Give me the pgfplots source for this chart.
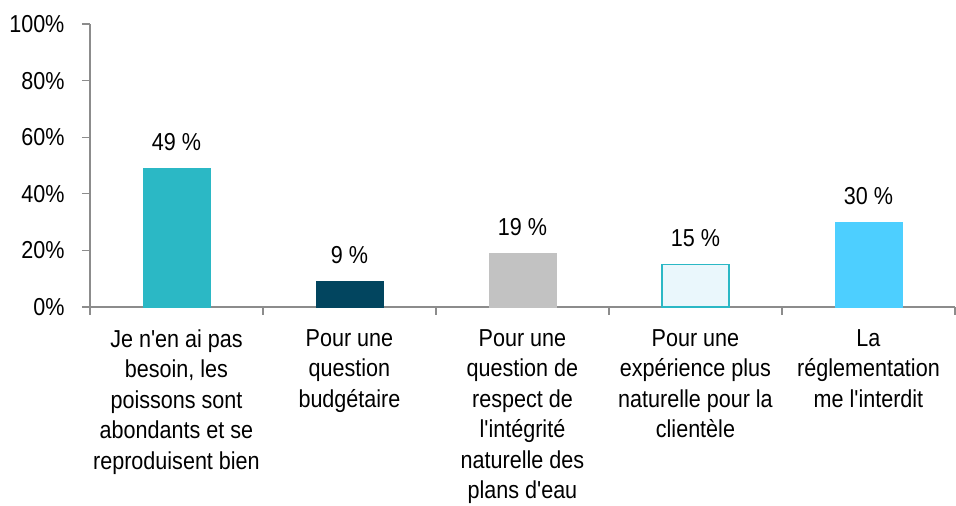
\documentclass[border=0pt]{standalone}
\usepackage{pgfplots}
\pgfplotsset{compat=1.18}
\usepackage{fontspec}
\setmainfont{Liberation Sans}[FakeStretch=0.88, Ligatures=TeXOff]
\definecolor{axgray}{HTML}{8C8C8C}
\definecolor{cteal}{HTML}{2BB8C5}
\definecolor{cdark}{HTML}{02455F}
\definecolor{cgray}{HTML}{C2C2C2}
\definecolor{cpale}{HTML}{EAF7FC}
\definecolor{csky}{HTML}{4DCFFF}
\begin{document}
\begin{tikzpicture}
\begin{axis}[
  scale only axis, width=865pt, height=283pt,
  xmin=0.5, xmax=5.5, ymin=0, ymax=100,
  axis lines=left, axis line style={-, draw=axgray, line width=1.4pt},
  tick align=outside, major tick length=8pt,
  tick style={draw=axgray, line width=1.2pt},
  font=\fontsize{24.5}{30.5}\selectfont,
  ytick={0,20,40,60,80,100},
  yticklabels={0\%,20\%,40\%,60\%,80\%,100\%},
  yticklabel style={xshift=-14pt},
  xtick={0.5,1.5,2.5,3.5,4.5,5.5},
  xticklabels={{Je n'en ai pas\\besoin, les\\poissons sont\\abondants et se\\reproduisent bien},
    {Pour une\\question\\budgétaire},
    {Pour une\\question de\\respect de\\l'intégrité\\naturelle des\\plans d'eau},
    {Pour une\\expérience plus\\naturelle pour la\\clientèle},
    {La\\réglementation\\me l'interdit},{}},
  xticklabel style={align=center, xshift=86.5pt, yshift=-11pt, anchor=north},
  ybar, bar width=67pt, bar shift=0pt,
  nodes near coords={\pgfmathprintnumber[assume math mode=true]{\pgfplotspointmeta}~\%},
  nodes near coords style={anchor=south, yshift=14pt, text=black,
    font=\fontsize{24.5}{30.5}\selectfont},
  clip=false,
]
\addplot[fill=cteal, draw=cteal] coordinates {(1,49)};
\addplot[fill=cdark, draw=cdark] coordinates {(2,9)};
\addplot[fill=cgray, draw=cgray] coordinates {(3,19)};
\addplot[fill=cpale, draw=cteal, line width=1.4pt] coordinates {(4,15)};
\addplot[fill=csky, draw=csky] coordinates {(5,30)};
\coordinate (bl) at (rel axis cs:-0.104,-0.703);
\coordinate (tr) at (rel axis cs:1.0012,1.0848);
\end{axis}
\pgfresetboundingbox
\path (bl) rectangle (tr);
\end{tikzpicture}
\end{document}
